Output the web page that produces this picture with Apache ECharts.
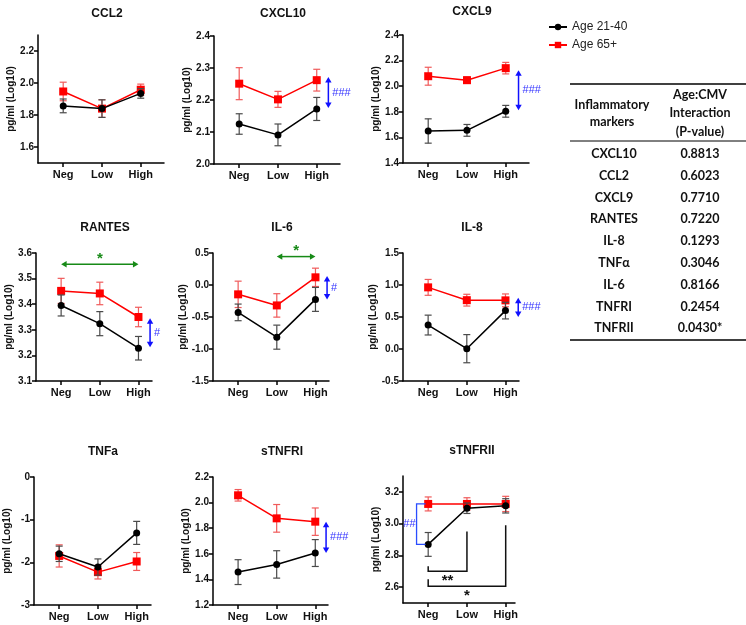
<!DOCTYPE html>
<html>
<head>
<meta charset="utf-8">
<script src="https://cdn.jsdelivr.net/npm/echarts@6/dist/echarts.min.js"></script>
<style>
  html, body { margin: 0; padding: 0; background: #fff; }
  #main { width: 746px; height: 625px; }
</style>
</head>
<body>
<div id="main"></div>
<script>
// 数据：log10 pg/ml，均值 + SEM
var categories = ['Neg', 'Low', 'High'];
var seriesNames = ['Age 21-40', 'Age 65+'];

var ccl2Young = [1.857, 1.840, 1.935],   ccl2YoungSem = [0.043, 0.055, 0.030];
var ccl2Old = [1.947, 1.840, 1.958],     ccl2OldSem = [0.058, 0.055, 0.035];
var cxcl10Young = [2.125, 2.091, 2.172], cxcl10YoungSem = [0.032, 0.034, 0.036];
var cxcl10Old = [2.251, 2.202, 2.262],   cxcl10OldSem = [0.050, 0.025, 0.034];
var cxcl9Young = [1.650, 1.655, 1.804],  cxcl9YoungSem = [0.095, 0.046, 0.046];
var cxcl9Old = [2.078, 2.047, 2.141],    cxcl9OldSem = [0.070, 0.025, 0.045];
var rantesYoung = [3.395, 3.324, 3.228], rantesYoungSem = [0.041, 0.047, 0.046];
var rantesOld = [3.452, 3.442, 3.350],   rantesOldSem = [0.049, 0.044, 0.038];
var il6Young = [-0.428, -0.815, -0.225], il6YoungSem = [0.130, 0.188, 0.187];
var il6Old = [-0.146, -0.319, 0.120],    il6OldSem = [0.206, 0.183, 0.143];
var il8Young = [0.374, 0.005, 0.600],    il8YoungSem = [0.155, 0.220, 0.130];
var il8Old = [0.963, 0.763, 0.760],      il8OldSem = [0.124, 0.092, 0.100];
var tnfaYoung = [-1.80, -2.11, -1.31],   tnfaYoungSem = [0.18, 0.19, 0.27];
var tnfaOld = [-1.85, -2.23, -1.98],     tnfaOldSem = [0.26, 0.16, 0.21];
var stnfr1Young = [1.457, 1.517, 1.606], stnfr1YoungSem = [0.097, 0.107, 0.105];
var stnfr1Old = [2.057, 1.877, 1.851],   stnfr1OldSem = [0.045, 0.108, 0.107];
var stnfr2Young = [2.869, 3.097, 3.112], stnfr2YoungSem = [0.075, 0.033, 0.045];
var stnfr2Old = [3.124, 3.124, 3.124],   stnfr2OldSem = [0.044, 0.039, 0.048];

// y轴刻度
var ccl2Ticks = [1.6, 1.8, 2.0, 2.2];
var cxcl10Ticks = [2.0, 2.1, 2.2, 2.3, 2.4];
var cxcl9Ticks = [1.4, 1.6, 1.8, 2.0, 2.2, 2.4];
var rantesTicks = [3.1, 3.2, 3.3, 3.4, 3.5, 3.6];
var il6Ticks = [-1.5, -1.0, -0.5, 0.0, 0.5];
var il8Ticks = [-0.5, 0.0, 0.5, 1.0, 1.5];
var tnfaTicks = [-3, -2, -1, 0];
var stnfr1Ticks = [1.2, 1.4, 1.6, 1.8, 2.0, 2.2];
var stnfr2Ticks = [2.6, 2.8, 3.0, 3.2];

// 右侧表格
var tableMarkers = ['CXCL10', 'CCL2', 'CXCL9', 'RANTES', 'IL-8', 'TNFα', 'IL-6', 'TNFRI', 'TNFRII'];
var tablePValues = ['0.8813', '0.6023', '0.7710', '0.7220', '0.1293', '0.3046', '0.8166', '0.2454', '0.0430*'];

var RED = '#ff0000', BLACK = '#000000';
var BLUE = '#1010ff', GREEN = '#178a17';
var FONT = '"Liberation Sans", Arial, sans-serif';

var panels = [
  {title: 'CCL2', young: ccl2Young, ys: ccl2YoungSem, old: ccl2Old, os: ccl2OldSem, ticks: ccl2Ticks, dec: 1,
   min: 1.5, max: 2.3, left: 38, top: 35, width: 126, height: 128, xMax: 2.6, titleTop: 3, anno: []},
  {title: 'CXCL10', young: cxcl10Young, ys: cxcl10YoungSem, old: cxcl10Old, os: cxcl10OldSem, ticks: cxcl10Ticks, dec: 1,
   min: 2.0, max: 2.4, left: 214, top: 36, width: 126, height: 128, xMax: 2.6, titleTop: 3,
   anno: [{kind: 'v', x: 2.3, y1: 2.272, y2: 2.175, text: '###'}]},
  {title: 'CXCL9', young: cxcl9Young, ys: cxcl9YoungSem, old: cxcl9Old, os: cxcl9OldSem, ticks: cxcl9Ticks, dec: 1,
   min: 1.4, max: 2.4, left: 403, top: 35, width: 126, height: 128, xMax: 2.6, titleTop: 1,
   anno: [{kind: 'v', x: 2.33, y1: 2.125, y2: 1.812, text: '###'}]},
  {title: 'RANTES', young: rantesYoung, ys: rantesYoungSem, old: rantesOld, os: rantesOldSem, ticks: rantesTicks, dec: 1,
   min: 3.1, max: 3.6, left: 36, top: 253, width: 116, height: 128, xMax: 2.35, titleTop: 217,
   anno: [{kind: 'h', x1: 0, x2: 2, y: 3.556, text: '*'}, {kind: 'v', x: 2.3, y1: 3.345, y2: 3.232, text: '#'}]},
  {title: 'IL-6', young: il6Young, ys: il6YoungSem, old: il6Old, os: il6OldSem, ticks: il6Ticks, dec: 1,
   min: -1.5, max: 0.5, left: 213, top: 253, width: 116, height: 128, xMax: 2.35, titleTop: 217,
   anno: [{kind: 'h', x1: 1, x2: 2, y: 0.444, text: '*'}, {kind: 'v', x: 2.3, y1: 0.141, y2: -0.225, text: '#'}]},
  {title: 'IL-8', young: il8Young, ys: il8YoungSem, old: il8Old, os: il8OldSem, ticks: il8Ticks, dec: 1,
   min: -0.5, max: 1.5, left: 403, top: 253, width: 116, height: 128, xMax: 2.35, titleTop: 217,
   anno: [{kind: 'v', x: 2.33, y1: 0.80, y2: 0.50, text: '###'}]},
  {title: 'TNFa', young: tnfaYoung, ys: tnfaYoungSem, old: tnfaOld, os: tnfaOldSem, ticks: tnfaTicks, dec: 0,
   min: -3, max: 0, left: 34, top: 477, width: 117, height: 128, xMax: 2.37, titleTop: 441, anno: []},
  {title: 'sTNFRI', young: stnfr1Young, ys: stnfr1YoungSem, old: stnfr1Old, os: stnfr1OldSem, ticks: stnfr1Ticks, dec: 1,
   min: 1.2, max: 2.2, left: 213, top: 477, width: 115, height: 128, xMax: 2.33, titleTop: 441,
   anno: [{kind: 'v', x: 2.28, y1: 1.851, y2: 1.606, text: '###'}]},
  {title: 'sTNFRII', young: stnfr2Young, ys: stnfr2YoungSem, old: stnfr2Old, os: stnfr2OldSem, ticks: stnfr2Ticks, dec: 1,
   min: 2.5, max: 3.3, left: 403, top: 476, width: 112, height: 127, xMax: 2.24, titleTop: 440,
   anno: [
     {kind: 'bv', x: -0.3, y1: 3.124, y2: 2.869, text: '##'},
     {kind: 'bh', x1: 0, x2: 1, yl: 2.731, yr: 2.95, yb: 2.70, text: '**'},
     {kind: 'bh', x1: 0, x2: 2, yl: 2.65, yr: 2.99, yb: 2.606, text: '*'}
   ]}
];

// 误差线
function errRender(color) {
  return function (params, api) {
    var x = api.value(0);
    var hi = api.coord([x, api.value(2)]);
    var lo = api.coord([x, api.value(1)]);
    var cw = 3.5;
    var st = {stroke: color, lineWidth: 1.2};
    return {type: 'group', children: [
      {type: 'line', shape: {x1: hi[0], y1: hi[1], x2: lo[0], y2: lo[1]}, style: st},
      {type: 'line', shape: {x1: hi[0] - cw, y1: hi[1], x2: hi[0] + cw, y2: hi[1]}, style: st},
      {type: 'line', shape: {x1: lo[0] - cw, y1: lo[1], x2: lo[0] + cw, y2: lo[1]}, style: st}
    ]};
  };
}

function head(tip, dx, dy, color) {
  var L = 5.5, W = 3.2;
  var bx = tip[0] - dx * L, by = tip[1] - dy * L;
  var nx = -dy, ny = dx;
  return {type: 'polygon', shape: {points: [[tip[0], tip[1]], [bx + nx * W, by + ny * W], [bx - nx * W, by - ny * W]]},
    style: {fill: color}};
}

// 标注（箭头、括号、显著性符号）
function annoRender(list) {
  return function (params, api) {
    var a = list[params.dataIndex];
    var kids = [];
    if (a.kind === 'h') {
      var p1 = api.coord([a.x1, a.y]), p2 = api.coord([a.x2, a.y]);
      kids.push({type: 'line', shape: {x1: p1[0] + 4, y1: p1[1], x2: p2[0] - 4, y2: p2[1]}, style: {stroke: GREEN, lineWidth: 1.5}});
      kids.push(head(p1, -1, 0, GREEN), head(p2, 1, 0, GREEN));
      kids.push({type: 'text', x: (p1[0] + p2[0]) / 2, y: p1[1] - 13,
        style: {text: a.text, fill: GREEN, font: 'bold 15px ' + FONT, align: 'center', verticalAlign: 'top'}});
    } else if (a.kind === 'v') {
      var q1 = api.coord([a.x, a.y1]), q2 = api.coord([a.x, a.y2]);
      kids.push({type: 'line', shape: {x1: q1[0], y1: q1[1] + 4, x2: q2[0], y2: q2[1] - 4}, style: {stroke: BLUE, lineWidth: 1.5}});
      kids.push(head(q1, 0, -1, BLUE), head(q2, 0, 1, BLUE));
      kids.push({type: 'text', x: q1[0] + 4, y: (q1[1] + q2[1]) / 2,
        style: {text: a.text, fill: '#3535ff', font: '11px ' + FONT, align: 'left', verticalAlign: 'middle'}});
    } else if (a.kind === 'bv') {
      var b1 = api.coord([a.x, a.y1]), b2 = api.coord([a.x, a.y2]);
      kids.push({type: 'polyline', shape: {points: [[b1[0] + 9, b1[1]], [b1[0], b1[1]], [b2[0], b2[1]], [b2[0] + 9, b2[1]]]},
        style: {stroke: '#2a4dff', lineWidth: 1.3, fill: 'none'}});
      kids.push({type: 'text', x: b1[0] - 1, y: (b1[1] + b2[1]) / 2,
        style: {text: a.text, fill: '#3535ff', font: '11px ' + FONT, align: 'right', verticalAlign: 'middle'}});
    } else if (a.kind === 'bh') {
      var l1 = api.coord([a.x1, a.yl]), l2 = api.coord([a.x1, a.yb]);
      var r1 = api.coord([a.x2, a.yr]), r2 = api.coord([a.x2, a.yb]);
      kids.push({type: 'polyline', shape: {points: [l1, l2, r2, r1]}, style: {stroke: '#111', lineWidth: 1.5, fill: 'none'}});
      kids.push({type: 'text', x: (l2[0] + r2[0]) / 2, y: l2[1] + 2,
        style: {text: a.text, fill: '#111', font: 'bold 15px ' + FONT, align: 'center', verticalAlign: 'top'}});
    }
    return {type: 'group', children: kids};
  };
}

var chart = echarts.init(document.getElementById('main'));

var grids = [], xAxes = [], yAxes = [], titles = [], series = [];

panels.forEach(function (p, i) {
  grids.push({left: p.left, top: p.top, width: p.width, height: p.height, containLabel: false});
  titles.push({text: p.title, left: p.left + 64, top: p.titleTop, textAlign: 'center',
    textStyle: {fontFamily: FONT, fontWeight: 'bold', fontSize: 12, color: '#111'}});
  xAxes.push({
    type: 'value', gridIndex: i, min: -0.65, max: p.xMax,
    axisLine: {onZero: false, lineStyle: {color: '#000', width: 1.5}},
    axisTick: {length: 4, lineStyle: {color: '#000', width: 1.5}, customValues: [0, 1, 2]},
    axisLabel: {customValues: [0, 1, 2], margin: 6, color: '#111', fontFamily: FONT, fontWeight: 'bold', fontSize: 11,
      formatter: function (v) { return categories[Math.round(v)]; }},
    splitLine: {show: false}
  });
  yAxes.push({
    type: 'value', gridIndex: i, min: p.min, max: p.max,
    name: 'pg/ml (Log10)', nameLocation: 'middle', nameGap: 22,
    nameTextStyle: {fontFamily: FONT, fontWeight: 'bold', fontSize: 10, color: '#111'},
    axisLine: {show: true, onZero: false, lineStyle: {color: '#000', width: 1.5}},
    axisTick: {show: true, length: 4, lineStyle: {color: '#000', width: 1.5}, customValues: p.ticks},
    axisLabel: {customValues: p.ticks, margin: 4, color: '#111', fontFamily: FONT, fontWeight: 'bold', fontSize: 10,
      formatter: (function (d) { return function (v) { return v.toFixed(d); }; })(p.dec)},
    splitLine: {show: false}
  });

  var oldErr = p.old.map(function (v, j) { return [j, v - p.os[j], v + p.os[j]]; });
  var youngErr = p.young.map(function (v, j) { return [j, v - p.ys[j], v + p.ys[j]]; });

  series.push({type: 'custom', xAxisIndex: i, yAxisIndex: i, renderItem: errRender('#f05a5a'),
    encode: {x: 0, y: [1, 2]}, data: oldErr, z: 2, silent: true});
  series.push({type: 'line', name: seriesNames[1], xAxisIndex: i, yAxisIndex: i,
    data: p.old.map(function (v, j) { return [j, v]; }),
    symbol: 'rect', symbolSize: 8, lineStyle: {color: RED, width: 1.5}, itemStyle: {color: RED}, z: 3});
  series.push({type: 'custom', xAxisIndex: i, yAxisIndex: i, renderItem: errRender('#4a4a4a'),
    encode: {x: 0, y: [1, 2]}, data: youngErr, z: 4, silent: true});
  series.push({type: 'line', name: seriesNames[0], xAxisIndex: i, yAxisIndex: i,
    data: p.young.map(function (v, j) { return [j, v]; }),
    symbol: 'circle', symbolSize: 7, lineStyle: {color: BLACK, width: 1.5}, itemStyle: {color: BLACK}, z: 5});
  if (p.anno.length) {
    series.push({type: 'custom', xAxisIndex: i, yAxisIndex: i, renderItem: annoRender(p.anno),
      encode: {x: 0, y: 1}, data: p.anno.map(function (a, k) { return [k, p.min]; }), z: 6, silent: true, clip: false});
  }
});

// 表格
var tbl = [];
var TF = 'bold 12.5px Lato, "Open Sans", sans-serif';
tbl.push({type: 'line', shape: {x1: 570, y1: 84, x2: 746, y2: 84}, style: {stroke: '#000', lineWidth: 1.5}});
tbl.push({type: 'line', shape: {x1: 570, y1: 141, x2: 746, y2: 141}, style: {stroke: '#000', lineWidth: 1}});
tbl.push({type: 'line', shape: {x1: 570, y1: 340, x2: 746, y2: 340}, style: {stroke: '#000', lineWidth: 1.5}});
[['Inflammatory', 105], ['markers', 122]].forEach(function (h) {
  tbl.push({type: 'text', x: 612, y: h[1], style: {text: h[0], font: TF, fill: '#111', align: 'center', verticalAlign: 'middle'}});
});
[['Age:CMV', 95], ['Interaction', 113], ['(P-value)', 132]].forEach(function (h) {
  tbl.push({type: 'text', x: 700, y: h[1], style: {text: h[0], font: TF, fill: '#111', align: 'center', verticalAlign: 'middle'}});
});
tableMarkers.forEach(function (m, i) {
  var y = 154 + i * 21.8;
  tbl.push({type: 'text', x: 614, y: y, style: {text: m, font: TF, fill: '#111', align: 'center', verticalAlign: 'middle'}});
  tbl.push({type: 'text', x: 700, y: y, style: {text: tablePValues[i], font: TF, fill: '#111', align: 'center', verticalAlign: 'middle'}});
});

var option = {
  animation: false,
  backgroundColor: '#fff',
  title: titles,
  legend: {
    data: seriesNames, orient: 'vertical', left: 543, top: 16, itemGap: 6,
    itemWidth: 18, itemHeight: 8,
    textStyle: {fontFamily: FONT, fontSize: 12, color: '#222'}
  },
  grid: grids,
  xAxis: xAxes,
  yAxis: yAxes,
  series: series,
  graphic: tbl
};

chart.setOption(option);
</script>
</body>
</html>
